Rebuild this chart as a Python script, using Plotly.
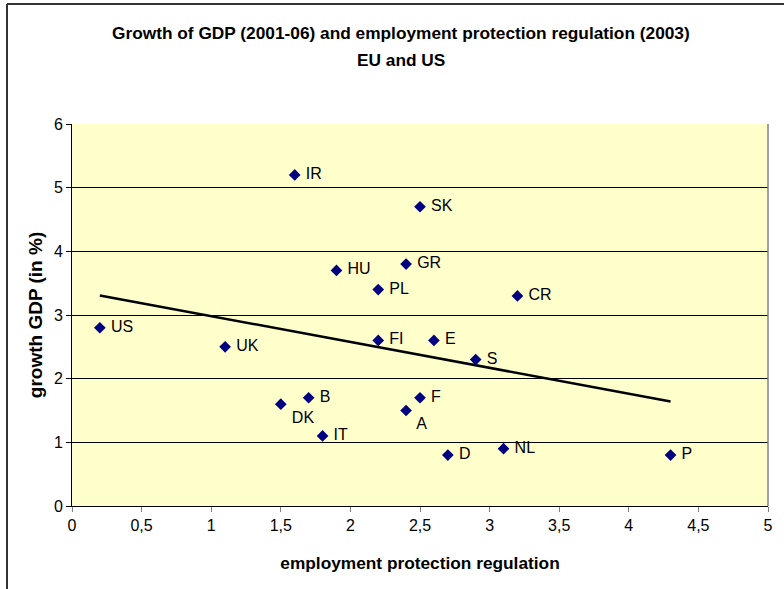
import numpy as np
import plotly.graph_objects as go

# Country codes, employment protection regulation index (2003) and GDP growth 2001-06 (%)
countries = ["US", "UK", "IR", "HU", "DK", "B", "IT", "PL", "FI", "GR",
             "SK", "E", "A", "F", "S", "D", "NL", "CR", "P"]
epr = [0.2, 1.1, 1.6, 1.9, 1.5, 1.7, 1.8, 2.2, 2.2, 2.4,
       2.5, 2.6, 2.4, 2.5, 2.9, 2.7, 3.1, 3.2, 4.3]
gdp_growth = [2.8, 2.5, 5.2, 3.7, 1.6, 1.7, 1.1, 3.4, 2.6, 3.8,
              4.7, 2.6, 1.5, 1.7, 2.3, 0.8, 0.9, 3.3, 0.8]
# labels placed below the marker for these two
below_labels = {"DK", "A"}

x_ticks = [0, 0.5, 1, 1.5, 2, 2.5, 3, 3.5, 4, 4.5, 5]
y_ticks = [0, 1, 2, 3, 4, 5, 6]

FONT = "Liberation Sans, Arial, sans-serif"

positions = ["bottom right" if c in below_labels else "middle right" for c in countries]

# Linear trend over the data range
slope, intercept = np.polyfit(epr, gdp_growth, 1)
trend_x = [min(epr), max(epr)]
trend_y = [slope * v + intercept for v in trend_x]

fig = go.Figure()
fig.add_trace(go.Scatter(
    x=trend_x, y=trend_y, mode="lines",
    line=dict(color="black", width=2.5),
    hoverinfo="skip", showlegend=False,
))
fig.add_trace(go.Scatter(
    x=epr, y=gdp_growth, mode="markers+text",
    text=[" " + c for c in countries],
    textposition=positions,
    textfont=dict(family=FONT, size=16, color="black"),
    marker=dict(symbol="diamond", size=9, color="#000080"),
    showlegend=False,
))

L, R, T, B = 72, 16, 124, 83
W, H = 784, 589
pw, ph = W - L - R, H - T - B

def px_x(p):
    return (p - L) / pw

def px_y(p):
    return (H - B - p) / ph

shapes = [
    # outer chart frame (top and left edges)
    dict(type="line", xref="paper", yref="paper",
         x0=px_x(7), y0=px_y(4), x1=px_x(800), y1=px_y(4),
         line=dict(color="#333333", width=2)),
    dict(type="line", xref="paper", yref="paper",
         x0=px_x(7), y0=px_y(4), x1=px_x(7), y1=px_y(600),
         line=dict(color="#333333", width=2)),
    # right edge of plot area
    dict(type="line", xref="paper", yref="paper",
         x0=1, y0=0, x1=1, y1=1, line=dict(color="#808080", width=1.5)),
]

annotations = [
    dict(text="<b>Growth of GDP (2001-06) and employment protection regulation (2003)</b>",
         xref="paper", yref="paper", x=px_x(401), y=px_y(33),
         showarrow=False, xanchor="center", yanchor="middle",
         font=dict(family=FONT, size=17.3, color="black")),
    dict(text="<b>EU and US</b>",
         xref="paper", yref="paper", x=px_x(401), y=px_y(60),
         showarrow=False, xanchor="center", yanchor="middle",
         font=dict(family=FONT, size=17.3, color="black")),
]

fig.update_layout(
    width=W, height=H,
    margin=dict(l=L, r=R, t=T, b=B),
    paper_bgcolor="white",
    plot_bgcolor="#FFFFCC",
    separators=",.",
    font=dict(family=FONT, size=16, color="black"),
    shapes=shapes,
    annotations=annotations,
)
fig.update_xaxes(
    range=[0, 5], tickvals=x_ticks, showgrid=False, zeroline=False,
    showline=True, linecolor="#000000", linewidth=1,
    ticks="outside", ticklen=5, tickcolor="#808080",
    tickfont=dict(family=FONT, size=16),
    title=dict(text="<b>employment protection regulation</b>", standoff=23,
               font=dict(family=FONT, size=17.3)),
)
fig.update_yaxes(
    range=[0, 6], tickvals=y_ticks, showgrid=True, gridcolor="#000000", gridwidth=1,
    zeroline=False, showline=True, linecolor="#000000", linewidth=1,
    ticks="outside", ticklen=5, tickcolor="#000000",
    tickfont=dict(family=FONT, size=16),
    title=dict(text="<b>growth GDP (in %)</b>", standoff=6,
               font=dict(family=FONT, size=19)),
)

fig.write_html("out.html")
